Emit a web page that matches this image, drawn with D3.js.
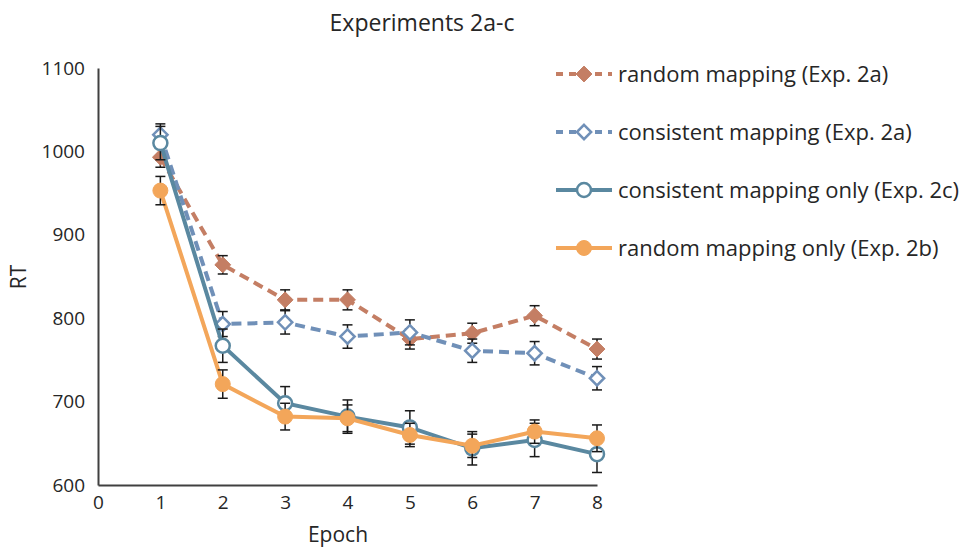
<!DOCTYPE html>
<html>
<head>
<meta charset="utf-8" />
<title>Experiments 2a-c</title>
<script src="https://d3js.org/d3.v7.min.js"></script>
<style>
    body { margin: 0; background: #fff; }
    text { font-family: "Open Sans", "Liberation Sans", sans-serif; fill: #262626; }
</style>
</head>
<body>
<div id="chart"></div>
<script>
    // data
    var epochs = [1, 2, 3, 4, 5, 6, 7, 8];
    var randomMap2a = [993, 864, 822, 822, 775, 782, 803, 763];
    var randomMap2aErr = [12, 11, 12, 12, 12, 12, 12, 12];
    var consistMap2a = [1020, 793, 795, 778, 783, 761, 758, 728];
    var consistMap2aErr = [13, 15, 14, 14, 15, 14, 14, 14];
    var consistOnly2c = [1010, 767, 698, 682, 669, 644, 654, 637];
    var consistOnly2cErr = [20, 20, 20, 20, 20, 20, 20, 22];
    var randomOnly2b = [953, 721, 682, 680, 660, 647, 664, 656];
    var randomOnly2bErr = [17, 17, 16, 16, 14, 14, 14, 16];
    var xTicks = [0, 1, 2, 3, 4, 5, 6, 7, 8];
    var yTicks = [600, 700, 800, 900, 1000, 1100];

    var series = [
        { name: "random mapping (Exp. 2a)", values: randomMap2a, err: randomMap2aErr, color: "#c47e64", dash: "10,6", marker: "diamond", filled: true },
        { name: "consistent mapping (Exp. 2a)", values: consistMap2a, err: consistMap2aErr, color: "#7090b8", dash: "10,6", marker: "diamond", filled: false },
        { name: "consistent mapping only (Exp. 2c)", values: consistOnly2c, err: consistOnly2cErr, color: "#5a88a0", dash: null, marker: "circle", filled: false },
        { name: "random mapping only (Exp. 2b)", values: randomOnly2b, err: randomOnly2bErr, color: "#f3a65a", dash: null, marker: "circle", filled: true }
    ];

    var width = 971, height = 547;
    var svg = d3.select("#chart").append("svg")
        .attr("width", width).attr("height", height);

    var x = d3.scaleLinear().domain([0, 8]).range([98, 597]);
    var y = d3.scaleLinear().domain([600, 1100]).range([485, 68]);

    // title
    svg.append("text").text("Experiments 2a-c")
        .attr("x", 422).attr("y", 31)
        .attr("text-anchor", "middle").style("font-size", "23px");

    // axes (no tick marks, just lines and labels)
    var xAxis = svg.append("g").attr("transform", "translate(0," + y(600) + ")")
        .call(d3.axisBottom(x).tickValues(xTicks).tickSize(0).tickPadding(11).tickFormat(d3.format("d")));
    var yAxis = svg.append("g").attr("transform", "translate(" + x(0) + ",0)")
        .call(d3.axisLeft(y).tickValues(yTicks).tickSize(0).tickPadding(13).tickFormat(d3.format("d")));
    [xAxis, yAxis].forEach(function (g) {
        g.select(".domain").attr("stroke", "#404040").attr("stroke-width", 2);
        g.selectAll("text").style("font-size", "19px").attr("fill", "#262626")
            .style("font-family", "'Open Sans', 'Liberation Sans', sans-serif");
    });

    svg.append("text").text("Epoch")
        .attr("x", 338).attr("y", 542)
        .attr("text-anchor", "middle").style("font-size", "21px");
    svg.append("text").text("RT")
        .attr("transform", "translate(26,277) rotate(-90)")
        .attr("text-anchor", "middle").style("font-size", "21px");

    var line = d3.line()
        .x(function (d, i) { return x(epochs[i]); })
        .y(function (d) { return y(d); });

    function drawMarker(g, cx, cy, s) {
        if (s.marker === "diamond") {
            g.append("path")
                .attr("d", d3.symbol().type(d3.symbolDiamond2).size(s.filled ? 160 : 130)())
                .attr("transform", "translate(" + cx + "," + cy + ")")
                .attr("fill", s.filled ? s.color : "#fff")
                .attr("stroke", s.color).attr("stroke-width", s.filled ? 1 : 2.5);
        } else {
            g.append("circle").attr("cx", cx).attr("cy", cy)
                .attr("r", s.filled ? 7.5 : 7)
                .attr("fill", s.filled ? s.color : "#fff")
                .attr("stroke", s.color).attr("stroke-width", s.filled ? 1 : 2.5);
        }
    }

    series.forEach(function (s) {
        var g = svg.append("g");
        g.append("path").datum(s.values)
            .attr("d", line)
            .attr("fill", "none")
            .attr("stroke", s.color)
            .attr("stroke-width", 4)
            .attr("stroke-dasharray", s.dash);

        // error bars
        var eb = g.selectAll(".err").data(s.values).enter().append("g");
        eb.append("line")
            .attr("x1", function (d, i) { return x(epochs[i]); })
            .attr("x2", function (d, i) { return x(epochs[i]); })
            .attr("y1", function (d, i) { return y(d - s.err[i]); })
            .attr("y2", function (d, i) { return y(d + s.err[i]); })
            .attr("stroke", "#1a1a1a").attr("stroke-width", 1.5);
        [-1, 1].forEach(function (sign) {
            eb.append("line")
                .attr("x1", function (d, i) { return x(epochs[i]) - 5; })
                .attr("x2", function (d, i) { return x(epochs[i]) + 5; })
                .attr("y1", function (d, i) { return y(d + sign * s.err[i]); })
                .attr("y2", function (d, i) { return y(d + sign * s.err[i]); })
                .attr("stroke", "#1a1a1a").attr("stroke-width", 1.5);
        });

        s.values.forEach(function (d, i) {
            drawMarker(g, x(epochs[i]), y(d), s);
        });
    });

    // legend
    var legend = svg.append("g");
    series.forEach(function (s, i) {
        var ly = 74 + i * 58;
        legend.append("line")
            .attr("x1", 556).attr("x2", 612)
            .attr("y1", ly).attr("y2", ly)
            .attr("stroke", s.color).attr("stroke-width", 4)
            .attr("stroke-dasharray", s.dash ? "7,6" : null);
        drawMarker(legend, 584, ly, s);
        legend.append("text").text(s.name)
            .attr("x", 618).attr("y", ly + 8)
            .style("font-size", "22px");
    });
</script>
</body>
</html>
